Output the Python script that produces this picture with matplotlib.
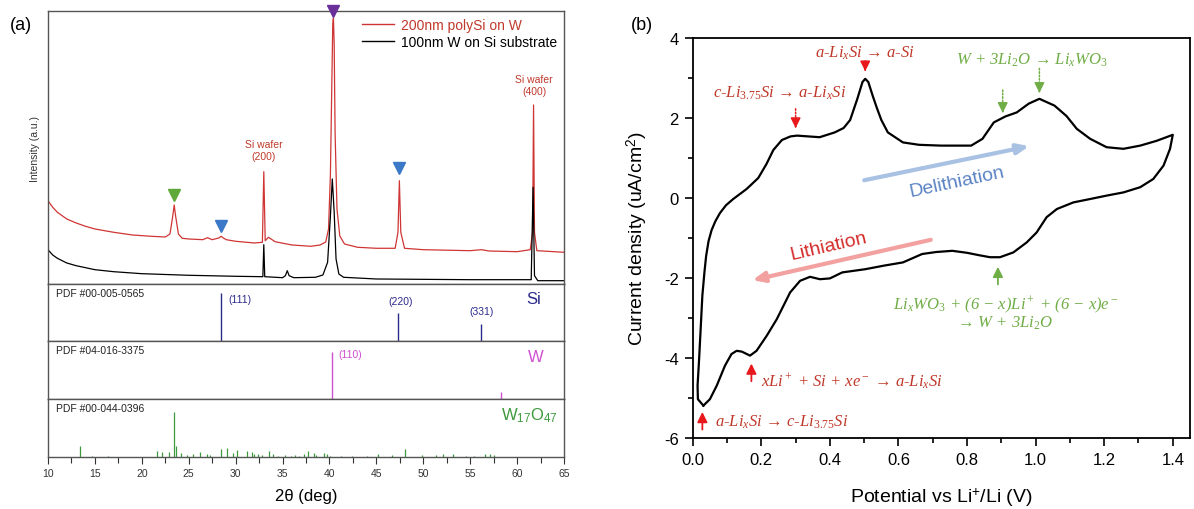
import matplotlib
matplotlib.use('Agg')
import matplotlib.pyplot as plt
from matplotlib.lines import Line2D

plt.rcParams['font.family'] = ['Liberation Sans', 'DejaVu Sans']
plt.rcParams['mathtext.fontset'] = 'custom'
plt.rcParams['mathtext.rm'] = 'Liberation Serif'
plt.rcParams['mathtext.it'] = 'Liberation Serif:italic'
plt.rcParams['mathtext.sf'] = 'Liberation Sans'
plt.rcParams['mathtext.fallback'] = 'stix'
plt.rcParams['axes.unicode_minus'] = False

# ---------------- (a) XRD data ----------------
red_deg = [10.0, 10.5, 11.0, 12.0, 13.0, 14.0, 15.0, 17.0, 19.0, 21.0, 22.5, 23.0, 23.3, 23.45, 23.6, 23.9,
           24.3, 25.0, 26.5, 27.0, 27.5, 28.2, 28.45, 28.7, 29.0, 30.0, 32.0, 32.85, 33.0, 33.15, 33.5,
           34.2, 36.0, 38.0, 39.0, 39.6, 39.9, 40.1, 40.25, 40.35, 40.42, 40.5, 40.6, 40.8, 41.1, 41.6,
           43.0, 45.0, 47.0, 47.3, 47.45, 47.6, 48.0, 50.0, 55.0, 56.2, 57.0, 60.0, 61.4, 61.65, 61.75,
           61.85, 62.1, 65.0]
red_int = [83.3, 76.7, 71.7, 65.0, 61.0, 57.7, 55.0, 51.7, 49.0, 47.7, 47.0, 50.0, 68.0, 79.0, 68.0, 50.0,
           45.7, 45.0, 44.3, 46.3, 44.3, 46.0, 47.7, 46.0, 44.3, 42.7, 41.0, 41.7, 112.3, 43.3, 46.7,
           42.3, 39.0, 37.7, 39.0, 42.0, 55.0, 110.0, 200.0, 260.0, 266.0, 240.0, 150.0, 75.0, 48.0, 40.0,
           36.7, 35.7, 35.7, 51.7, 103.3, 51.7, 35.7, 34.3, 33.3, 34.3, 33.0, 32.3, 34.3, 51.7, 179.0,
           51.7, 33.3, 31.7]

black_deg = [10.0, 10.5, 11.0, 12.0, 13.0, 14.0, 15.0, 17.0, 20.0, 25.0, 30.0, 32.9, 33.0, 33.1, 35.0,
             35.3, 35.5, 35.7, 36.2, 38.5, 39.3, 39.8, 40.1, 40.3, 40.5, 40.7, 41.0, 41.5, 45.0, 55.0,
             61.5, 61.7, 61.85, 62.2, 65.0]
black_int = [34.3, 29.0, 25.7, 21.0, 18.3, 16.3, 14.3, 12.3, 10.3, 8.7, 7.7, 7.3, 39.3, 7.3, 6.3,
             8.3, 13.3, 8.3, 6.3, 6.7, 9.0, 21.7, 68.0, 105.0, 71.7, 25.0, 10.0, 6.7, 5.0, 4.3,
             4.3, 96.7, 8.3, 3.3, 3.3]

si_pos = [28.44, 47.30, 56.12]
si_int = [100, 58, 35]
si_hkl = ['(111)', '(220)', '(331)']

w_pos = [40.26, 58.27]
w_int = [100, 14]

wo_pos = [13.38, 14.7, 16.4, 21.6, 22.2, 22.9, 23.45, 23.65, 24.2, 24.8, 25.5, 26.2, 26.9, 27.3, 28.45,
          29.1, 29.7, 30.1, 31.2, 31.7, 32.0, 32.4, 32.8, 33.6, 34.0, 34.5, 35.3, 35.9, 36.3, 36.8,
          37.3, 37.7, 38.3, 38.6, 39.4, 39.7, 40.1, 41.2, 42.4, 44.0, 45.2, 46.7, 48.1, 49.9, 51.3,
          52.1, 53.2, 54.5, 55.4, 56.6, 57.1, 57.5]
wo_int = [24, 2, 2, 13, 12, 11, 100, 25, 10, 4, 7, 11, 6, 4, 17,
          20, 10, 15, 13, 11, 7, 7, 5, 13, 6, 3, 5, 3, 5, 3,
          7, 13, 10, 4, 8, 6, 3, 2, 2, 3, 7, 5, 17, 4, 4,
          6, 6, 3, 3, 7, 6, 4]

# peak markers: (position, height, colour)
marker_pos = [23.45, 28.45, 47.45, 40.4]
marker_int = [89, 58, 116, 273]
marker_col = ['#5fa83a', '#3b78c8', '#3b78c8', '#6a3099']

# ---------------- (b) CV data ----------------
cv_v = [0.031, 0.015, 0.014, 0.018, 0.023, 0.028, 0.034, 0.039, 0.046, 0.055, 0.066, 0.079, 0.097, 0.118,
        0.157, 0.191,
        0.215, 0.235, 0.26, 0.285, 0.304, 0.337, 0.37, 0.414, 0.44, 0.459, 0.48, 0.495, 0.503, 0.512,
        0.525, 0.537, 0.55, 0.569, 0.613, 0.66, 0.724, 0.812, 0.845, 0.878, 0.912, 0.945, 0.98, 1.011,
        1.055, 1.09, 1.12, 1.159, 1.207, 1.256, 1.305, 1.353, 1.4,
        1.392, 1.373, 1.343, 1.305, 1.256, 1.207, 1.159, 1.11, 1.062, 1.032, 1.003, 0.974, 0.935,
        0.896, 0.867, 0.835, 0.8, 0.757, 0.71, 0.669, 0.613, 0.558, 0.503, 0.436, 0.4, 0.371, 0.342,
        0.313, 0.284, 0.245, 0.216, 0.186, 0.167, 0.143, 0.128, 0.113, 0.094, 0.07, 0.05, 0.031]
cv_i = [-5.19, -5.03, -4.69, -4.11, -3.28, -2.44, -1.86, -1.45, -1.08, -0.8, -0.58, -0.38, -0.18, -0.025,
        0.225, 0.5,
        0.85, 1.2, 1.45, 1.54, 1.56, 1.54, 1.52, 1.64, 1.75, 1.95, 2.48, 2.9, 2.98, 2.9,
        2.55, 2.25, 1.95, 1.64, 1.39, 1.33, 1.31, 1.31, 1.48, 1.89, 2.04, 2.14, 2.36, 2.48,
        2.31, 2.05, 1.73, 1.48, 1.27, 1.23, 1.31, 1.43, 1.58,
        1.23, 0.81, 0.475, 0.27, 0.14, 0.06, -0.025, -0.11, -0.275, -0.48, -0.86, -1.11, -1.36,
        -1.48, -1.48, -1.43, -1.37, -1.32, -1.35, -1.4, -1.61, -1.69, -1.78, -1.86, -2.01, -2.03, -1.97,
        -2.07, -2.36, -3.03, -3.44, -3.82, -3.94, -3.84, -3.82, -3.9, -4.19, -4.69, -5.03, -5.19]

RED = '#d03535'
TXT_RED = '#c0392b'
GREEN = '#70ad47'
GRAY = '#555555'

fig = plt.figure(figsize=(11.94, 5.10), dpi=100)

L, W = 0.0402, 0.4322
ax0 = fig.add_axes([L, 0.4412, W, 0.5347])
ax_si = fig.add_axes([L, 0.3294, W, 0.1118])
ax_w = fig.add_axes([L, 0.2157, W, 0.1137])
ax_wo = fig.add_axes([L, 0.1020, W, 0.1137])

for a in [ax0, ax_si, ax_w, ax_wo]:
    a.set_xlim(10, 65)
    for s in a.spines.values():
        s.set_color(GRAY)
        s.set_linewidth(1.0)
    a.tick_params(left=False, labelleft=False, bottom=False, labelbottom=False)

ax0.plot(red_deg, red_int, color=RED, lw=0.9)
ax0.plot(black_deg, black_int, color='black', lw=0.9)
ax0.set_ylim(0, 272.7)
for p, h, c in zip(marker_pos, marker_int, marker_col):
    ax0.plot(p, h, marker='v', ms=8, color=c, mec=c, clip_on=False, zorder=5)
ax0.set_ylabel('Intensity (a.u.)', fontsize=7.5, color='#333333', labelpad=6)
ax0.text(33.0, 134, 'Si wafer\n(200)', ha='center', va='center', fontsize=7.5, color=TXT_RED, linespacing=1.35)
ax0.text(61.8, 199, 'Si wafer\n(400)', ha='center', va='center', fontsize=7.5, color=TXT_RED, linespacing=1.35)
handles = [Line2D([], [], color=RED, lw=1.0), Line2D([], [], color='black', lw=1.0)]
leg = ax0.legend(handles, ['200nm polySi on W', '100nm W on Si substrate'], loc='upper right',
                 bbox_to_anchor=(1.01, 1.02), frameon=False, fontsize=10, handlelength=2.3,
                 handletextpad=0.5, labelspacing=0.2)
leg.get_texts()[0].set_color(TXT_RED)

# reference patterns
ax_si.vlines(si_pos, 0, si_int, color='#2b2b8c', lw=1.0)
ax_si.set_ylim(0, 118.75)
ax_si.text(29.2, 87.5, si_hkl[0], ha='left', va='center', fontsize=7.5, color='#2b2b8c')
ax_si.text(47.55, 83.3, si_hkl[1], ha='center', va='center', fontsize=7.5, color='#2b2b8c')
ax_si.text(56.2, 62.5, si_hkl[2], ha='center', va='center', fontsize=7.5, color='#2b2b8c')
ax_si.text(0.942, 0.75, 'Si', transform=ax_si.transAxes, ha='center', va='center', fontsize=12, color='#2b2b8c')
ax_si.text(0.015, 0.93, 'PDF #00-005-0565', transform=ax_si.transAxes, ha='left', va='top', fontsize=7.5, color='#222222')

ax_w.vlines(w_pos, 0, w_int, color='#d14fd1', lw=1.0)
ax_w.set_ylim(0, 122.6)
ax_w.text(40.9, 95, '(110)', ha='left', va='center', fontsize=7.5, color='#d14fd1')
ax_w.text(0.946, 0.74, 'W', transform=ax_w.transAxes, ha='center', va='center', fontsize=12, color='#d14fd1')
ax_w.text(0.015, 0.93, 'PDF #04-016-3375', transform=ax_w.transAxes, ha='left', va='top', fontsize=7.5, color='#222222')

ax_wo.vlines(wo_pos, 0, wo_int, color='#3d9a3d', lw=0.9)
ax_wo.set_ylim(0, 129.8)
ax_wo.text(0.932, 0.72, 'W$_{\\mathsf{17}}$O$_{\\mathsf{47}}$', transform=ax_wo.transAxes, ha='center', va='center',
           fontsize=12, color='#3d9a3d')
ax_wo.text(0.015, 0.93, 'PDF #00-044-0396', transform=ax_wo.transAxes, ha='left', va='top', fontsize=7.5, color='#222222')
ax_wo.tick_params(bottom=True, labelbottom=True, direction='out', length=5, width=0.8, color='#333333',
                  labelsize=7.5, labelcolor='#333333', pad=3)
ax_wo.set_xticks(range(10, 66, 5))
ax_wo.set_xticks([x + 2.5 for x in range(10, 65, 5)], minor=True)
ax_wo.tick_params(which='minor', bottom=True, direction='out', length=4, width=0.8, color='#333333')
ax_wo.set_xlabel('2θ (deg)', fontsize=12, labelpad=7)

fig.text(20.7 / 1194, 1 - 25 / 510, '(a)', ha='center', va='center', fontsize=13)
fig.text(641.7 / 1194, 1 - 25 / 510, '(b)', ha='center', va='center', fontsize=13)

# ---------------- (b) CV ----------------
ax = fig.add_axes([0.5802, 0.1392, 0.4165, 0.7843])
ax.plot(cv_v, cv_i, color='black', lw=1.6, solid_joinstyle='round')
ax.set_xlim(0, 1.4504)
ax.set_ylim(-6, 4)
ax.set_xticks([0.0, 0.2, 0.4, 0.6, 0.8, 1.0, 1.2, 1.4])
ax.set_xticklabels(['0.0', '0.2', '0.4', '0.6', '0.8', '1.0', '1.2', '1.4'])
ax.set_xticks([0.1, 0.3, 0.5, 0.7, 0.9, 1.1, 1.3], minor=True)
ax.set_yticks([-6, -4, -2, 0, 2, 4])
ax.set_yticks([-5, -3, -1, 1, 3], minor=True)
ax.tick_params(direction='out', length=6, width=1.2, labelsize=12, pad=4)
ax.tick_params(which='minor', direction='out', length=3.5, width=1.2)
for s in ax.spines.values():
    s.set_linewidth(1.3)
ax.set_ylabel('Current density (uA/cm$^{\\mathsf{2}}$)', fontsize=14, labelpad=10)
ax.set_xlabel('Potential vs Li$^{\\mathsf{+}}$/Li (V)', fontsize=14, labelpad=13)

serif = ['Liberation Serif', 'DejaVu Serif']
tk = dict(fontstyle='italic', family=serif, fontsize=12)


def dotted_arrow(x, y0, y1, color):
    ax.annotate('', xy=(x, y1 + 0.12), xytext=(x, y0),
                arrowprops=dict(arrowstyle='-', color=color, lw=1.1, ls=(0, (1, 1.2))))
    ax.annotate('', xy=(x, y1), xytext=(x, y1 + 0.2),
                arrowprops=dict(arrowstyle='-|>,head_length=0.6,head_width=0.3', color=color, lw=1.1))


def solid_arrow(x, y0, y1, color):
    ax.annotate('', xy=(x, y1), xytext=(x, y0),
                arrowprops=dict(arrowstyle='-|>,head_length=0.6,head_width=0.3', color=color, lw=1.3))


ax.text(0.503, 3.64, 'a-Li$_x$Si → a-Si', ha='center', va='center', color=TXT_RED, **tk)
dotted_arrow(0.503, 3.5, 3.1, '#e8191c')
ax.text(0.254, 2.64, 'c-Li$_{3.75}$Si → a-Li$_x$Si', ha='center', va='center', color=TXT_RED, **tk)
dotted_arrow(0.30, 2.3, 1.68, '#e8191c')
ax.text(0.99, 3.47, 'W + 3Li$_2$O → Li$_x$WO$_3$', ha='center', va='center', color=GREEN, **tk)
dotted_arrow(0.904, 2.77, 2.06, GREEN)
dotted_arrow(1.011, 3.31, 2.56, GREEN)

solid_arrow(0.89, -2.23, -1.65, GREEN)
ax.text(0.912, -2.65, 'Li$_x$WO$_3$ + (6 − x)Li$^+$ + (6 − x)e$^−$', ha='center', va='center', color=GREEN, **tk)
ax.text(0.912, -3.11, '→ W + 3Li$_2$O', ha='center', va='center', color=GREEN, **tk)

solid_arrow(0.171, -4.65, -4.07, '#e8191c')
ax.text(0.199, -4.57, 'xLi$^+$ + Si + xe$^−$ → a-Li$_x$Si', ha='left', va='center', color=TXT_RED, **tk)
solid_arrow(0.028, -5.86, -5.28, '#e8191c')
ax.text(0.066, -5.59, 'a-Li$_x$Si → c-Li$_{3.75}$Si', ha='left', va='center', color=TXT_RED, **tk)

ax.annotate('', xy=(0.989, 1.31), xytext=(0.492, 0.43),
            arrowprops=dict(arrowstyle='-|>,head_length=0.7,head_width=0.3', color='#a9c1e3', lw=3))
ax.text(0.77, 0.40, 'Delithiation', rotation=12, ha='center', va='center', fontsize=14, color='#5b84c4')
ax.annotate('', xy=(0.166, -2.07), xytext=(0.702, -1.03),
            arrowprops=dict(arrowstyle='-|>,head_length=0.7,head_width=0.3', color='#f2a0a0', lw=3))
ax.text(0.395, -1.2, 'Lithiation', rotation=13, ha='center', va='center', fontsize=14, color='#d42a2a')

fig.savefig('out.png', dpi=100)
